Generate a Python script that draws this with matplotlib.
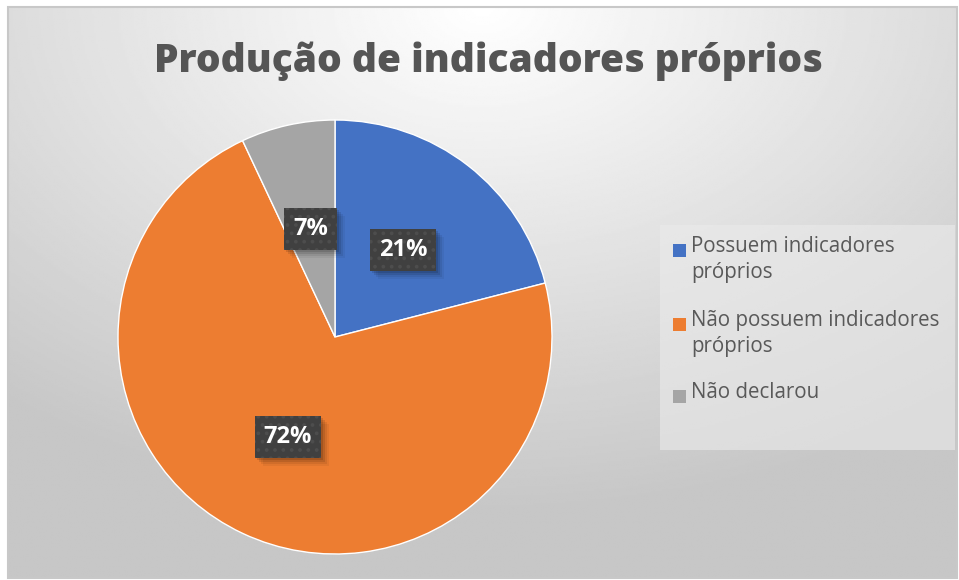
import numpy as np
import matplotlib
matplotlib.use("Agg")
from matplotlib import pyplot as plt
from matplotlib.patches import Rectangle
from matplotlib.transforms import IdentityTransform

plt.rcParams['font.family'] = ['Open Sans', 'DejaVu Sans']
plt.rcParams['hatch.linewidth'] = 1.5

title = 'Produção de indicadores próprios'
labels = ['Possuem indicadores\npróprios', 'Não possuem indicadores\npróprios', 'Não declarou']
values = [21, 72, 7]
colors = ['#4472C4', '#ED7D31', '#A5A5A5']

W, H = 959, 580
fig = plt.figure(figsize=(W / 100, H / 100), dpi=100)
fig.patch.set_facecolor('white')

# background: radial grey gradient inside the chart frame
bg = fig.add_axes([8 / W, 2 / H, 949 / W, 571 / H])
yy, xx = np.mgrid[0:1:300j, 0:1:500j]
d = np.sqrt(((xx - 0.5) * 1.1) ** 2 + (yy * 1.0) ** 2)
g = np.clip(1.0 - 0.25 * d, 0.78, 1.0)
bg.imshow(g, cmap='gray', vmin=0, vmax=1, aspect='auto', extent=[0, 1, 1, 0])
bg.set_axis_off()
fig.patches.append(Rectangle((8 / W, 2 / H), 949 / W, 571 / H, transform=fig.transFigure,
                             fill=False, edgecolor='#c8c8c8', lw=1.5))

fig.text(488 / W, 1 - 61 / H, title, ha='center', va='center', fontsize=28,
         fontweight='heavy', color='#555555')

ax = fig.add_axes([118 / W, 26 / H, 434 / W, 434 / H])
wedges, texts, autotexts = ax.pie(values, colors=colors, startangle=90, counterclock=False,
                                  autopct='%1.0f%%', pctdistance=0.51,
                                  wedgeprops=dict(edgecolor='white', linewidth=1))
ax.set_xlim(-1, 1)
ax.set_ylim(-1, 1)
for t in autotexts:
    t.set_zorder(3)
    t.set_color('white')
    t.set_fontweight('bold')
    t.set_fontsize(17)
    t.set_bbox(dict(boxstyle='square,pad=0.38', facecolor='#404040', edgecolor='#4d4d4d',
                    hatch='..', lw=0))

# soft drop shadows under the label boxes
fig.canvas.draw()
for t in autotexts:
    bb = t.get_bbox_patch().get_window_extent()
    for k, a in [(8, 0.05), (6, 0.07), (4, 0.10), (2, 0.12)]:
        ax.add_patch(Rectangle((bb.x0 + k, bb.y0 - k), bb.width, bb.height,
                               transform=IdentityTransform(), facecolor='black',
                               alpha=a, lw=0, zorder=2))

# legend
fig.patches.append(Rectangle((660 / W, 1 - 450 / H), 295 / W, 225 / H, transform=fig.transFigure,
                             facecolor='#ebebeb', edgecolor='none', alpha=0.6))
ys = [250, 324, 396]
for lab, col, y in zip(labels, colors, ys):
    fig.patches.append(Rectangle((673 / W, 1 - (y + 7) / H), 13 / W, 13 / H,
                                 transform=fig.transFigure, facecolor=col, edgecolor='none'))
    fig.text(691 / W, 1 - (y - 14) / H, lab, ha='left', va='top', fontsize=14.8,
             color='#595959', linespacing=1.3)

fig.savefig('out.png', dpi=100)
